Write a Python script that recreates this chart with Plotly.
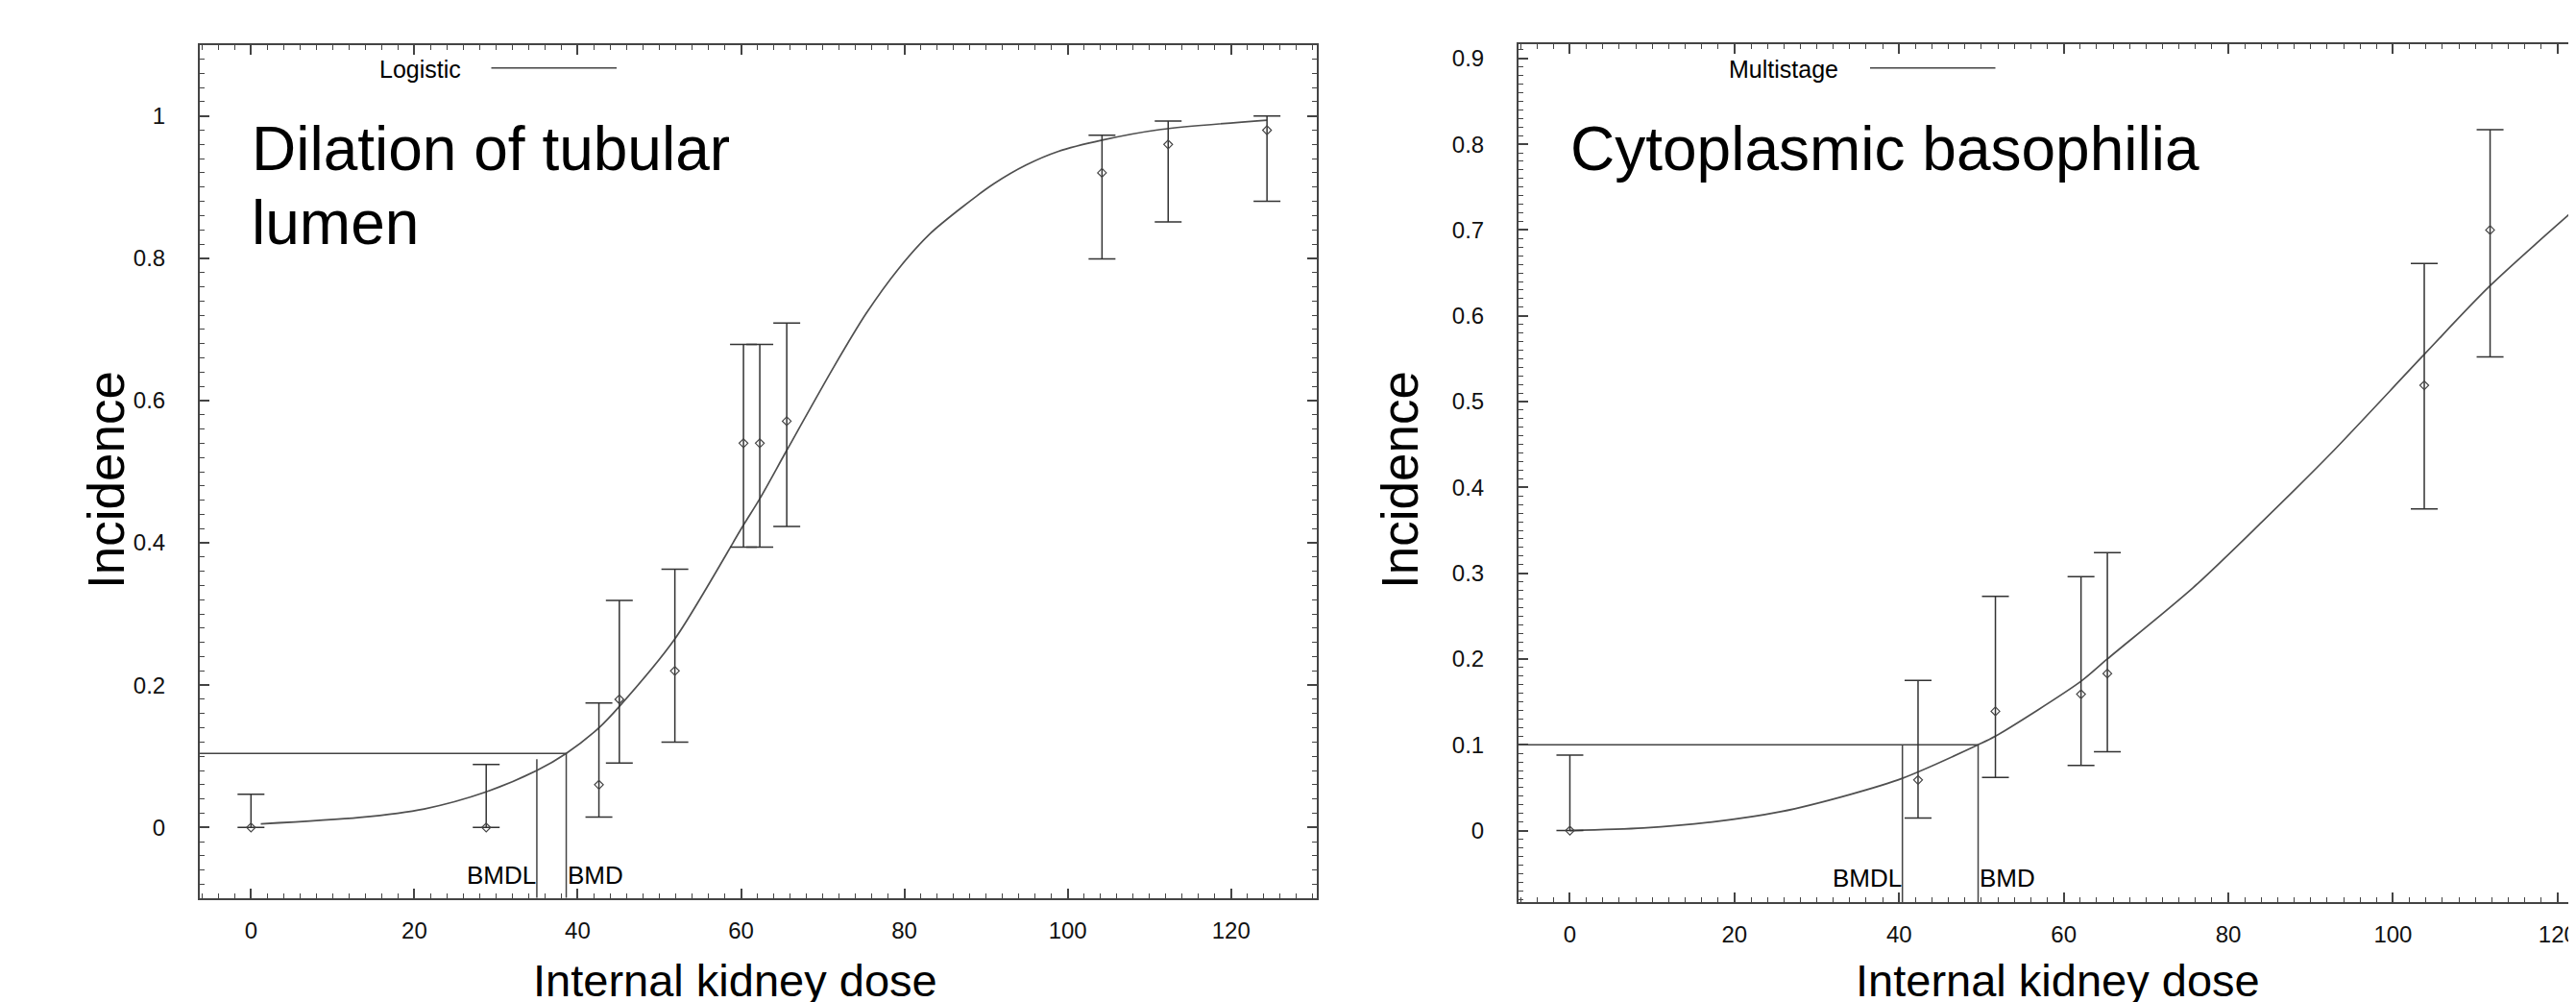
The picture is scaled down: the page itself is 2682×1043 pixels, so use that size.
import plotly.graph_objects as go

W, H = 2682, 1043
FONT = "Liberation Sans, Arial, sans-serif"

# ---------------- data: left panel (Logistic) ----------------
dose_L = [0, 28.8, 42.6, 45.1, 51.9, 60.3, 62.3, 65.6, 104.2, 112.3, 124.4]
inc_L = [0, 0, 0.06, 0.18, 0.22, 0.54, 0.54, 0.571, 0.920, 0.96, 0.98]
low_L = [0, 0, 0.0147, 0.0905, 0.12, 0.394, 0.394, 0.423, 0.799, 0.851, 0.88]
up_L = [0.0465, 0.0886, 0.175, 0.319, 0.363, 0.679, 0.679, 0.709, 0.973, 0.993, 1.0]
curve_x_L = [1.2, 13.3, 21.2, 28.8, 35.0, 38.6, 42.6, 45.1, 51.9, 60.3, 62.3, 65.6,
             71.4, 75.3, 79.2, 83.1, 87.1, 91.0, 94.9, 98.8, 104.2, 111.4, 124.4]
curve_y_L = [0.005, 0.014, 0.026, 0.050, 0.080, 0.104, 0.140, 0.170, 0.265, 0.425,
             0.462, 0.530, 0.648, 0.722, 0.784, 0.834, 0.872, 0.905, 0.931, 0.950,
             0.966, 0.981, 0.994]
bmr_L, bmd_L, bmdl_L, bmdl_top_L = 0.104, 38.6, 35.0, 0.096

# ---------------- data: right panel (Multistage) ----------------
dose_R = [0, 42.3, 51.7, 62.1, 65.3, 103.8, 111.8, 124.0]
inc_R = [0, 0.059, 0.139, 0.159, 0.183, 0.519, 0.700, 0.72]
low_R = [0, 0.0147, 0.062, 0.076, 0.092, 0.375, 0.552, 0.572]
up_R = [0.088, 0.175, 0.273, 0.296, 0.324, 0.661, 0.817, 0.833]
curve_x_R = [0, 8.9, 17.3, 25.6, 34.0, 40.4, 49.6, 51.7, 62.1, 65.3, 75.7, 84.1,
             92.4, 103.8, 111.8, 124.0]
curve_y_R = [0.0, 0.003, 0.010, 0.022, 0.042, 0.061, 0.100, 0.110, 0.174, 0.200,
             0.283, 0.360, 0.439, 0.555, 0.635, 0.740]
bmr_R, bmd_R, bmdl_R, bmdl_top_R = 0.100, 49.6, 40.4, 0.100

# axis ranges
xr_L = [-6.27, 130.5]
yr_L = [-0.0991, 1.0995]
xr_R = [-6.24, 123.17]
yr_R = [-0.0838, 0.9166]

x_ticks = [0, 20, 40, 60, 80, 100, 120]

LINE_C = "#444444"
CURVE_C = "#505050"
ERR_C = "#333333"


def px(x):
    return x / W


def py(y):
    return 1 - y / H


fig = go.Figure()


def add_panel(xa, ya, dose, inc, low, up, cx, cy, bmr, bmd, bmdl, bmdl_top, xr, yr):
    # fitted curve
    fig.add_trace(go.Scatter(x=cx, y=cy, mode="lines",
                             line=dict(color=CURVE_C, width=1.7, shape="spline", smoothing=0.8),
                             xaxis=xa, yaxis=ya, showlegend=False, hoverinfo="skip"))
    # BMR / BMD / BMDL lines
    fig.add_trace(go.Scatter(x=[xr[0], bmd, bmd, None, bmdl, bmdl],
                             y=[bmr, bmr, yr[0], None, bmdl_top, yr[0]],
                             mode="lines", line=dict(color=LINE_C, width=1.5),
                             xaxis=xa, yaxis=ya, showlegend=False, hoverinfo="skip"))
    # observed incidence with confidence limits
    fig.add_trace(go.Scatter(
        x=dose, y=inc, mode="markers",
        marker=dict(symbol="diamond-open", size=7, color="#444444", line=dict(width=1.2)),
        error_y=dict(type="data", symmetric=False,
                     array=[u - v for u, v in zip(up, inc)],
                     arrayminus=[v - l for v, l in zip(inc, low)],
                     color=ERR_C, thickness=1.5, width=14),
        xaxis=xa, yaxis=ya, showlegend=False, hoverinfo="skip"))


add_panel("x", "y", dose_L, inc_L, low_L, up_L, curve_x_L, curve_y_L,
          bmr_L, bmd_L, bmdl_L, bmdl_top_L, xr_L, yr_L)
add_panel("x2", "y2", dose_R, inc_R, low_R, up_R, curve_x_R, curve_y_R,
          bmr_R, bmd_R, bmdl_R, bmdl_top_R, xr_R, yr_R)

tickfont = dict(family=FONT, size=24, color="#111111")


def xaxis(domain, rng, anchor):
    return dict(domain=domain, range=rng, anchor=anchor, tickvals=x_ticks, ticks="inside", ticklen=10,
                tickwidth=1.5, tickcolor=LINE_C, showline=True, linecolor=LINE_C, linewidth=2,
                mirror="allticks", showgrid=False, zeroline=False, tickfont=tickfont,
                ticklabelstandoff=11,
                minor=dict(dtick=2, ticks="inside", ticklen=5, tickwidth=1.2, tickcolor=LINE_C,
                           showgrid=False))


def yaxis(domain, rng, dtick, mdtick, mirror, anchor):
    return dict(domain=domain, range=rng, anchor=anchor, dtick=dtick, tick0=0, ticks="inside", ticklen=10,
                tickwidth=1.5, tickcolor=LINE_C, showline=True, linecolor=LINE_C, linewidth=2,
                mirror=mirror, showgrid=False, zeroline=False, tickfont=tickfont,
                ticklabelstandoff=29,
                minor=dict(dtick=mdtick, ticks="inside", ticklen=5, tickwidth=1.2, tickcolor=LINE_C,
                           showgrid=False))


annotations = []
shapes = []


def ann(text, x, y, size, xanchor="center", yanchor="middle", xref="paper", yref="paper",
        angle=0, xshift=0):
    annotations.append(dict(text=text, x=x, y=y, xref=xref, yref=yref, xanchor=xanchor,
                            yanchor=yanchor, showarrow=False, textangle=angle, xshift=xshift,
                            font=dict(family=FONT, size=size, color="#000000")))


# panel titles
ann("Dilation of tubular", 0, py(147), 64, xanchor="left", xref="x", xshift=-1)
ann("lumen", 0, py(223.5), 64, xanchor="left", xref="x", xshift=-1)
ann("Cytoplasmic basophilia", 0, py(147), 64, xanchor="left", xref="x2", xshift=-1)

# legend entries
ann("Logistic", px(474), py(63.5), 25, xanchor="right")
ann("Multistage", px(1908), py(63.5), 25, xanchor="right")
shapes.append(dict(type="line", xref="paper", yref="paper", x0=px(503.5), x1=px(634),
                   y0=py(62.7), y1=py(62.7), line=dict(color=LINE_C, width=1.5)))
shapes.append(dict(type="line", xref="paper", yref="paper", x0=px(1939), x1=px(2069.5),
                   y0=py(62.7), y1=py(62.7), line=dict(color=LINE_C, width=1.5)))

# BMD / BMDL labels
ann("BMDL", bmdl_L, py(902.6), 26, xanchor="right", xref="x", xshift=1)
ann("BMD", bmd_L, py(902.6), 26, xanchor="left", xref="x", xshift=-1)
ann("BMDL", bmdl_R, py(906.4), 26, xanchor="right", xref="x2", xshift=1)
ann("BMD", bmd_R, py(906.4), 26, xanchor="left", xref="x2", xshift=-1)

# axis titles
ann("Incidence", px(102), py(492), 53, angle=-90)
ann("Incidence", px(1449), py(492), 53, angle=-90)
ann("Internal kidney dose", px(757), py(1012), 47)
ann("Internal kidney dose", px(2134), py(1012), 47)

fig.update_layout(
    width=W, height=H,
    margin=dict(l=0, r=0, t=0, b=0),
    paper_bgcolor="white", plot_bgcolor="white",
    showlegend=False,
    xaxis=xaxis([px(200), px(1363)], xr_L, "y"),
    yaxis=yaxis([py(926.7), py(39)], yr_L, 0.2, 0.02, "allticks", "x"),
    xaxis2=xaxis([px(1573), 1.0], xr_R, "y2"),
    yaxis2=yaxis([py(931.4), py(38)], yr_R, 0.1, 0.01, False, "x2"),
    annotations=annotations,
    shapes=shapes,
)

fig.write_html("out.html")
